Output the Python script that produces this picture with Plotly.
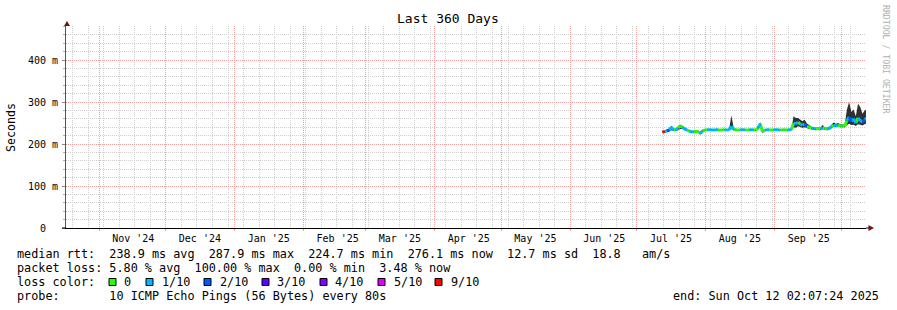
import pandas as pd
import plotly.graph_objects as go

# ---------------- data ----------------
START = "2024-10-17 02:07:24"
END = "2025-10-12 02:07:24"
DATES = pd.date_range("2025-07-12 12:00", periods=93, freq="D")

MEDIAN_MS = [228, 230, 231, 233, 240, 234, 233, 238, 244, 240, 236, 233, 231, 229, 229, 229, 230, 225, 231, 233, 234,
             234, 234, 233, 234, 234, 233, 234, 234, 233, 234,
             242, 235,
             234, 233, 234, 234, 234, 233, 234, 234, 234, 233,
             238, 248, 229,
             233, 234, 234, 233, 234, 234, 234, 233, 234, 234, 233, 234, 234,
             250, 248, 252, 247, 245, 247, 242, 240,
             238, 237, 236, 237, 236, 239, 237, 236, 237,
             241, 245, 243, 245, 243, 243, 243,
             256, 264, 254, 260, 250, 262, 256, 252, 258, 262]

SMOKE_LO_MS = [226, 228, 229, 230, 233, 231, 231, 233, 236, 236, 233, 231, 229, 227, 227, 227, 227, 222, 228, 231, 232,
               232, 232, 231, 232, 232, 231, 232, 232, 231, 232,
               236, 232,
               232, 231, 232, 232, 232, 231, 232, 232, 232, 231,
               235, 240, 226,
               231, 232, 232, 231, 232, 232, 232, 231, 232, 232, 231, 232, 232,
               240, 239, 242, 240, 239, 240, 237, 236,
               235, 234, 233, 234, 233, 235, 234, 233, 234,
               238, 241, 240, 242, 240, 240, 240,
               245, 248, 245, 246, 243, 247, 246, 244, 247, 250]

SMOKE_HI_MS = [230, 233, 234, 237, 243, 237, 236, 241, 246, 243, 239, 236, 233, 231, 231, 231, 232, 230, 234, 235, 236,
               236, 236, 235, 236, 236, 235, 236, 236, 235, 236,
               268, 240,
               236, 235, 236, 236, 236, 235, 236, 236, 236, 235,
               243, 252, 234,
               235, 236, 236, 235, 236, 236, 236, 235, 236, 236, 235, 236, 236,
               266, 262, 262, 258, 254, 258, 249, 245,
               241, 240, 239, 240, 239, 245, 240, 239, 240,
               246, 251, 248, 250, 247, 246, 246,
               282, 300, 276, 282, 266, 296, 288, 272, 280, 283]

LOSS_TENTHS = [9, 1, 2, 1, 1, 0, 1, 0, 0, 1, 1, 0, 1, 1, 0, 0, 0, 1, 0, 0, 1,
               1, 1, 1, 1, 0, 0, 0, 1, 1, 1,
               1, 0,
               0, 0, 1, 1, 0, 0, 1, 1, 0, 0,
               1, 0, 0,
               1, 1, 0, 0, 1, 1, 1, 0, 0, 0, 1, 1, 0,
               1, 1, 0, 1, 1, 2, 0, 0,
               1, 1, 0, 0, 1, 0, 0, 1, 1,
               0, 1, 1, 0, 0, 0, 0,
               1, 2, 1, 1, 0, 1, 1, 2, 1, 1]

LOSS_LEVELS = [0, 1, 2, 3, 4, 5, 9]
LOSS_LABELS = ["0", "1/10", "2/10", "3/10", "4/10", "5/10", "9/10"]
LOSS_COLORS = ["#26ff00", "#00b8ff", "#0059ff", "#5e00ff", "#7e00ff", "#dd00ff", "#ff0000"]

MONTH_STARTS = pd.date_range("2024-11-01", "2025-10-01", freq="MS")
MONTH_LABELS = ["Nov '24", "Dec '24", "Jan '25", "Feb '25", "Mar '25", "Apr '25",
                "May '25", "Jun '25", "Jul '25", "Aug '25", "Sep '25", ""]

Y_TICKS = [0, 0.1, 0.2, 0.3, 0.4]
Y_TICK_TEXT = ["0\u00a0\u00a0", "100 m", "200 m", "300 m", "400 m"]

LEGEND_LINES = [
    "median rtt:  238.9 ms avg  287.9 ms max  224.7 ms min  276.1 ms now  12.7 ms sd  18.8   am/s",
    "packet loss: 5.80 % avg  100.00 % max  0.00 % min  3.48 % now",
    "loss color:",
    "probe:       10 ICMP Echo Pings (56 Bytes) every 80s",
]
END_TEXT = "end: Sun Oct 12 02:07:24 2025"
TITLE = "Last 360 Days"

# ---------------- layout geometry (pixels) ----------------
W, H = 897, 310
PL, PR, PT, PB = 66, 866, 26, 228
FONT = "DejaVu Sans Mono"


def fx(x):
    return (x - PL) / (PR - PL)


def fy(y):
    return (PB - y) / (PB - PT)


def loss_index(v):
    idx = 0
    for i, lv in enumerate(LOSS_LEVELS):
        if v >= lv:
            idx = i
    return idx


fig = go.Figure()

med = [v / 1000 for v in MEDIAN_MS]
lo = [v / 1000 for v in SMOKE_LO_MS]
hi = [v / 1000 for v in SMOKE_HI_MS]

fig.add_trace(go.Scatter(x=DATES, y=lo, mode="lines", line=dict(width=0, color="#222"),
                         hoverinfo="skip", showlegend=False))
fig.add_trace(go.Scatter(x=DATES, y=hi, mode="lines", line=dict(width=0, color="#222"),
                         fill="tonexty", fillcolor="rgba(20,20,20,0.88)", hoverinfo="skip", showlegend=False))

# median line, coloured per loss class
for ci, col in enumerate(LOSS_COLORS):
    xs, ys = [], []
    for i in range(len(DATES) - 1):
        if loss_index(LOSS_TENTHS[i]) == ci:
            xs += [DATES[i], DATES[i + 1], None]
            ys += [med[i], med[i + 1], None]
    if xs:
        fig.add_trace(go.Scatter(x=xs, y=ys, mode="lines", line=dict(width=3, color=col),
                                 hoverinfo="skip", showlegend=False, connectgaps=False))

# invisible trace for label axis
fig.add_trace(go.Scatter(x=[START], y=[0], xaxis="x2", mode="markers",
                         marker=dict(opacity=0), hoverinfo="skip", showlegend=False))

label_pos = [m + pd.Timedelta(days=15, hours=8) for m in MONTH_STARTS]

GRID_MINOR = "#cfcfcf"
GRID_MAJOR = "#f2a0a0"
DASH = "1px,1px"

fig.update_layout(
    width=W, height=H,
    margin=dict(l=PL, r=W - PR, t=PT, b=H - PB, pad=0),
    paper_bgcolor="white", plot_bgcolor="white",
    font=dict(family=FONT, size=10, color="black"),
    showlegend=False,
    xaxis=dict(
        type="date", range=[START, END], domain=[0, 1],
        tickmode="array", tickvals=list(MONTH_STARTS), showticklabels=False,
        ticks="outside", ticklen=2, tickcolor=GRID_MAJOR,
        showgrid=True, gridcolor=GRID_MAJOR, griddash=DASH, gridwidth=1,
        minor=dict(tickmode="linear", tick0="2024-10-20", dtick=7 * 86400000,
                   showgrid=True, gridcolor=GRID_MINOR, griddash=DASH, gridwidth=1,
                   ticks=""),
        showline=True, linecolor="black", linewidth=1, zeroline=False,
        fixedrange=True,
    ),
    xaxis2=dict(
        type="date", range=[START, END], overlaying="x", anchor="y", side="bottom",
        tickmode="array", tickvals=label_pos, ticktext=MONTH_LABELS,
        showgrid=False, showline=False, zeroline=False, ticks="",
        tickfont=dict(family=FONT, size=10, color="black"),
        ticklabelstandoff=3,
    ),
    yaxis=dict(
        range=[0, 0.481], domain=[0, 1],
        tickmode="array", tickvals=Y_TICKS, ticktext=Y_TICK_TEXT,
        tickfont=dict(family=FONT, size=10, color="black"),
        ticks="outside", ticklen=3, tickcolor="#888",
        ticklabelstandoff=2,
        showgrid=True, gridcolor=GRID_MAJOR, griddash=DASH, gridwidth=1,
        minor=dict(tickmode="linear", tick0=0, dtick=0.02, showgrid=True,
                   gridcolor=GRID_MINOR, griddash=DASH, gridwidth=1,
                   ticks="outside", ticklen=2, tickcolor="#aaa"),
        showline=True, linecolor="#555", linewidth=1, zeroline=False,
        fixedrange=True,
    ),
)

annotations = []


def text_at(x, y, s, size=11.8, anchor="left", color="black", angle=0):
    annotations.append(dict(
        x=fx(x), y=fy(y), xref="paper", yref="paper", text=s.replace(" ", "\u00a0"),
        showarrow=False, xanchor=anchor, yanchor="middle", textangle=angle,
        font=dict(family=FONT, size=size, color=color), borderpad=0,
    ))


text_at(448, 19, TITLE, size=13, anchor="center")
text_at(11, 127, "Seconds", size=11.6, anchor="center", angle=-90)
text_at(886, 60, "RRDTOOL / TOBI OETIKER", size=8.2, anchor="center", color="#b0b0b0", angle=90)

for i, line in enumerate(LEGEND_LINES):
    text_at(16, 254 + 14 * i, line)
text_at(880, 296, END_TEXT, anchor="right")

shapes = []
sq_x = [109, 146, 204, 262, 320, 378, 435]
lab_x = [123, 161, 218.5, 276, 334, 392.5, 450]
for i, (lbl, col) in enumerate(zip(LOSS_LABELS, LOSS_COLORS)):
    shapes.append(dict(type="rect", xref="paper", yref="paper",
                       x0=fx(sq_x[i]), x1=fx(sq_x[i] + 7), y0=fy(285.5), y1=fy(278.5),
                       fillcolor=col, line=dict(color="black", width=1)))
    text_at(lab_x[i], 282, lbl)

ARROW = "#7a1010"
shapes.append(dict(type="path", xref="paper", yref="paper",
                   path=f"M {fx(67)},{fy(21)} L {fx(64)},{fy(26)} L {fx(70)},{fy(26)} Z",
                   fillcolor=ARROW, line=dict(color=ARROW, width=0)))
shapes.append(dict(type="path", xref="paper", yref="paper",
                   path=f"M {fx(874)},{fy(228)} L {fx(868.5)},{fy(225)} L {fx(868.5)},{fy(231)} Z",
                   fillcolor=ARROW, line=dict(color=ARROW, width=0)))
shapes.append(dict(type="line", xref="paper", yref="paper",
                   x0=fx(866), x1=fx(869), y0=fy(228), y1=fy(228),
                   line=dict(color="black", width=1)))
shapes.append(dict(type="line", xref="paper", yref="paper",
                   x0=fx(62), x1=fx(66), y0=fy(228), y1=fy(228),
                   line=dict(color="black", width=1)))

fig.update_layout(annotations=annotations, shapes=shapes)

fig.write_html("out.html")
